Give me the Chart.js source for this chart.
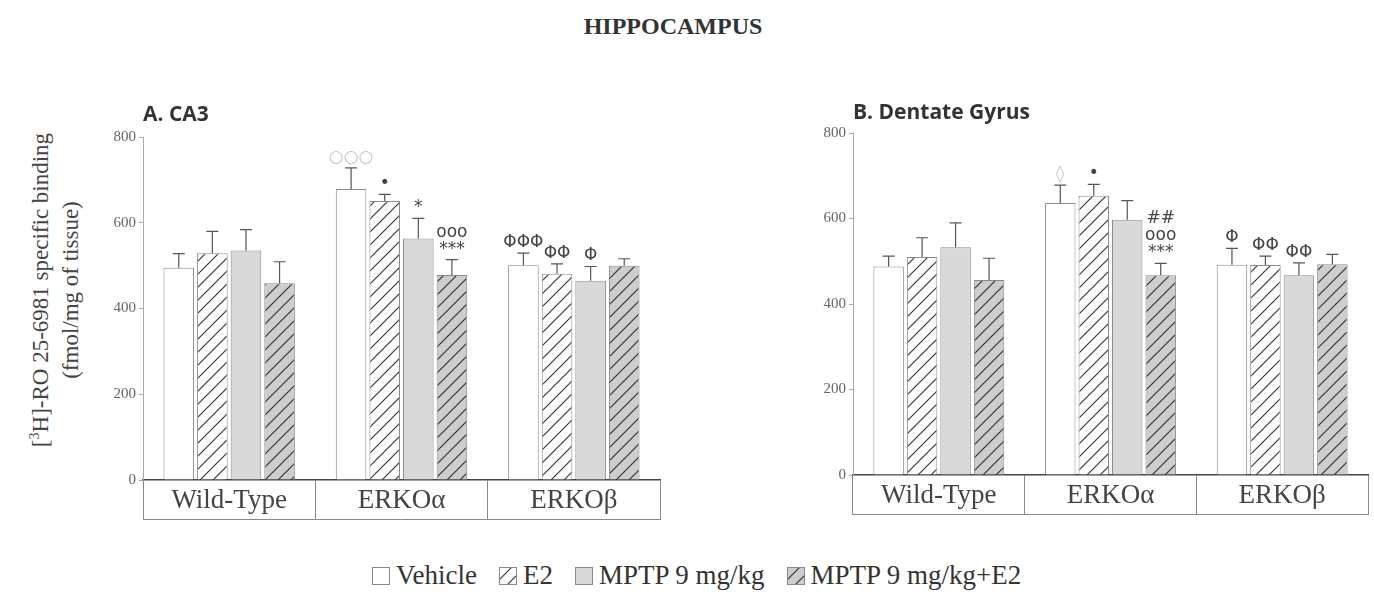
<!DOCTYPE html>
<html>
<head>
<meta charset="utf-8">
<script src="https://cdn.jsdelivr.net/npm/chart.js@4.4.0/dist/chart.umd.min.js"></script>
<style>
  body { margin: 0; background: #fff; width: 1374px; height: 596px; position: relative; overflow: hidden; font-family: "Liberation Serif", serif; color: #333; }
  #title { position: absolute; left: 0; width: 1346px; top: 13px; text-align: center; font-weight: bold; font-size: 24px; color: #333; }
  .panel { position: absolute; top: 95px; }
  #ytitle { position: absolute; left: 56px; top: 290px; transform: translate(-50%, -50%) rotate(-90deg); white-space: nowrap; text-align: center; font-size: 23px; line-height: 30px; color: #444; }
  #ytitle sup { font-size: 14px; vertical-align: 9px; line-height: 0; }
  #legend { position: absolute; left: 372px; top: 560px; font-size: 27px; color: #333; white-space: nowrap; display: flex; align-items: center; }
  #legend .item { display: flex; align-items: center; margin-right: 22px; }
  #legend canvas { margin-right: 6px; }
</style>
</head>
<body>
<div id="title">HIPPOCAMPUS</div>
<div id="ytitle">[<sup>3</sup>H]-RO 25-6981 specific binding<br>(fmol/mg of tissue)</div>
<div class="panel" style="left:0"><canvas id="ca3" width="680" height="440"></canvas></div>
<div class="panel" style="left:700px"><canvas id="dg" width="674" height="440"></canvas></div>
<div id="legend"></div>
<script>
const categories = ['Wild-Type', 'ERKOα', 'ERKOβ'];
const seriesNames = ['Vehicle', 'E2', 'MPTP 9 mg/kg', 'MPTP 9 mg/kg+E2'];
const yTicks = [0, 200, 400, 600, 800];

// A. CA3
const ca3Vehicle = [495, 679, 501];
const ca3E2 = [529, 651, 481];
const ca3Mptp = [535, 563, 465];
const ca3MptpE2 = [459, 478, 500];
const ca3VehicleSem = [33, 49, 28];
const ca3E2Sem = [51, 15, 23];
const ca3MptpSem = [49, 47, 33];
const ca3MptpE2Sem = [50, 36, 16];
const ca3VehicleMarks = ['', '○○○', 'ΦΦΦ'];
const ca3E2Marks = ['', '•', 'ΦΦ'];
const ca3MptpMarks = ['', '*', 'Φ'];
const ca3MptpE2Marks = ['', 'ooo\n***', ''];

// B. Dentate Gyrus
const dgVehicle = [488, 636, 492];
const dgE2 = [510, 653, 491];
const dgMptp = [533, 597, 467];
const dgMptpE2 = [456, 467, 493];
const dgVehicleSem = [24, 42, 38];
const dgE2Sem = [45, 27, 21];
const dgMptpSem = [57, 45, 29];
const dgMptpE2Sem = [51, 28, 23];
const dgVehicleMarks = ['', '◊', 'Φ'];
const dgE2Marks = ['', '•', 'ΦΦ'];
const dgMptpMarks = ['', '', 'ΦΦ'];
const dgMptpE2Marks = ['', '##\nooo\n***', ''];

// light grey marks (faded in the scan)
const faintVehicle = [false, true, false];

function hatch(bg, line) {
  const c = document.createElement('canvas');
  c.width = 13; c.height = 13;
  const x = c.getContext('2d');
  x.fillStyle = bg; x.fillRect(0, 0, 13, 13);
  x.strokeStyle = line; x.lineWidth = 1.2;
  x.beginPath();
  x.moveTo(0, 13); x.lineTo(13, 0);
  x.moveTo(-6.5, 6.5); x.lineTo(6.5, -6.5);
  x.moveTo(6.5, 19.5); x.lineTo(19.5, 6.5);
  x.stroke();
  return x.createPattern(c, 'repeat');
}

const fills = ['#ffffff', hatch('#ffffff', '#3a3a3a'), '#d9d9d9', hatch('#cdcdcd', '#333333')];

function ds(i, data, sem, marks, faint) {
  return {
    label: seriesNames[i], data, sem, marks, faint,
    backgroundColor: fills[i], borderColor: '#8a8a8a', borderWidth: 1,
    barPercentage: 0.91, categoryPercentage: 0.78
  };
}

// error bars, significance marks, bottom edge of the category box
const extras = {
  id: 'extras',
  afterDatasetsDraw(chart) {
    const ctx = chart.ctx, ys = chart.scales.y, xs = chart.scales.x;
    ctx.save();
    chart.data.datasets.forEach((d, i) => {
      chart.getDatasetMeta(i).data.forEach((bar, j) => {
        const top = ys.getPixelForValue(d.data[j] + d.sem[j]);
        ctx.strokeStyle = '#555'; ctx.lineWidth = 1.2;
        ctx.beginPath();
        ctx.moveTo(bar.x, bar.y); ctx.lineTo(bar.x, top);
        ctx.moveTo(bar.x - 6, top); ctx.lineTo(bar.x + 6, top);
        ctx.stroke();
        if (!d.marks[j]) return;
        const lines = d.marks[j].split('\n').reverse();
        ctx.fillStyle = d.faint && d.faint[j] ? '#c8c8c8' : '#444';
        ctx.font = '17px "DejaVu Sans"';
        ctx.textAlign = 'center'; ctx.textBaseline = 'alphabetic';
        lines.forEach((t, k) => ctx.fillText(t, bar.x, top - 6 - k * 17));
      });
    });
    ctx.strokeStyle = '#888'; ctx.lineWidth = 1;
    ctx.beginPath();
    ctx.moveTo(xs.left, xs.bottom - 0.5); ctx.lineTo(xs.right, xs.bottom - 0.5);
    ctx.stroke();
    ctx.restore();
  }
};

function makeChart(id, sets, title, titlePad, pad, axisWidth) {
  return new Chart(document.getElementById(id), {
    type: 'bar',
    data: { labels: categories, datasets: sets },
    options: {
      responsive: false,
      animation: false,
      layout: { padding: pad },
      plugins: {
        legend: { display: false },
        tooltip: { enabled: false },
        title: {
          display: true, text: title, align: 'start', fullSize: false, color: '#333',
          font: { family: 'Open Sans', size: 21, weight: 'bold', lineHeight: 1.0 }, padding: titlePad
        }
      },
      scales: {
        x: {
          offset: true,
          grid: { display: true, offset: true, drawOnChartArea: false, tickLength: 40, color: '#888' },
          border: { display: true, color: '#444', width: 1.5 },
          ticks: { font: { family: 'Liberation Serif', size: 27 }, color: '#444', padding: -35 },
          afterFit(s) { s.height = 40; }
        },
        y: {
          min: 0, max: 800,
          afterBuildTicks(s) { s.ticks = yTicks.map(v => ({ value: v })); },
          ticks: { font: { family: 'Liberation Serif', size: 15 }, color: '#666', padding: 3 },
          grid: { display: true, drawOnChartArea: false, tickLength: 4, color: '#aaa' },
          border: { color: '#aaa' },
          afterFit(s) { s.width = axisWidth; }
        }
      }
    },
    plugins: [extras]
  });
}

makeChart('ca3', [
  ds(0, ca3Vehicle, ca3VehicleSem, ca3VehicleMarks, faintVehicle),
  ds(1, ca3E2, ca3E2Sem, ca3E2Marks),
  ds(2, ca3Mptp, ca3MptpSem, ca3MptpMarks),
  ds(3, ca3MptpE2, ca3MptpE2Sem, ca3MptpE2Marks)
], 'A. CA3', { top: 10, bottom: 11 }, { left: 0, right: 20, top: 0, bottom: 15 }, 143);

makeChart('dg', [
  ds(0, dgVehicle, dgVehicleSem, dgVehicleMarks, faintVehicle),
  ds(1, dgE2, dgE2Sem, dgE2Marks),
  ds(2, dgMptp, dgMptpSem, dgMptpMarks),
  ds(3, dgMptpE2, dgMptpE2Sem, dgMptpE2Marks)
], 'B. Dentate Gyrus', { top: 8, bottom: 9 }, { left: 0, right: 6, top: 0, bottom: 20 }, 153);

// legend under both panels
const legend = document.getElementById('legend');
seriesNames.forEach((name, i) => {
  const item = document.createElement('span');
  item.className = 'item';
  const sw = document.createElement('canvas');
  sw.width = 18; sw.height = 18;
  const c = sw.getContext('2d');
  c.fillStyle = fills[i]; c.fillRect(1, 1, 16, 16);
  c.strokeStyle = '#888'; c.lineWidth = 1; c.strokeRect(0.5, 0.5, 17, 17);
  item.appendChild(sw);
  item.appendChild(document.createTextNode(name));
  legend.appendChild(item);
});
</script>
</body>
</html>
